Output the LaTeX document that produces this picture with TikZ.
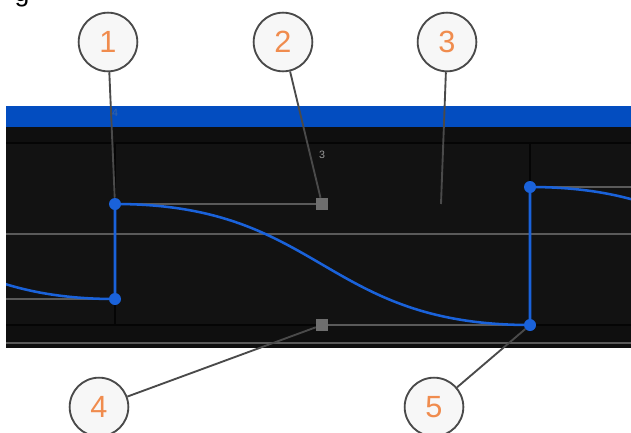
\documentclass[tikz,border=0pt]{standalone}
\usepackage{fontspec}
\setmainfont{Liberation Sans}
\usepackage{tikz}
\usetikzlibrary{backgrounds}
\definecolor{barblue}{HTML}{034DC0}
\definecolor{keyblue}{HTML}{1A62DA}
\definecolor{panel}{HTML}{121212}
\definecolor{strip}{HTML}{0F0F0F}
\definecolor{sep}{HTML}{050505}
\definecolor{gridgray}{HTML}{5A5A5A}
\definecolor{handlegray}{HTML}{6E6E6E}
\definecolor{leadgray}{HTML}{4A4A4A}
\definecolor{numorange}{HTML}{F08C4E}
\tikzstyle{key} = [circle, minimum width=9pt, fill=keyblue, inner sep=0pt]
\tikzstyle{handle} = [rectangle, minimum size=9pt, fill=handlegray, inner sep=0pt]
\tikzstyle{callout} = [circle, minimum width=44pt, inner sep=0pt, draw=leadgray, line width=1.4pt,
  fill=black!3, text=numorange, font=\fontsize{23}{23}\selectfont]
\tikzstyle{leader} = [draw=leadgray, line width=1.4pt]
\tikzstyle{grid} = [draw=gridgray, line width=1pt]
\tikzstyle{frame} = [font=\fontsize{8}{8}\selectfont, inner sep=0pt]

\begin{document}
\begin{tikzpicture}[x=0.75pt, y=-0.75pt]
        \useasboundingbox (0,0) rectangle (631,432);
        \node (cap) [anchor=base, inner sep=0pt] at (22,2) {\fontsize{20}{20}\selectfont g};
        % keyframes and tangent handles
        \node (k0) [key] at (115,299) {};
        \node (k1) [key] at (115,204) {};
        \node (k5) [key] at (530,325) {};
        \node (k6) [key] at (530,187) {};
        \node (h2) [handle] at (322,204) {};
        \node (h4) [handle] at (322,325) {};
        \coordinate (p3) at (441,204);
        \begin{scope}[on background layer]
        \fill[barblue] (6,106) rectangle (631,127);
        \fill[strip] (6,127) rectangle (631,348);
        \fill[panel] (6,143) rectangle (631,325);
        \draw[sep, line width=1pt] (6,143) -- (631,143);
        \draw[sep, line width=1pt] (6,325) -- (631,325);
        \draw[sep, line width=1.2pt] (115,143) -- (115,325);
        \draw[sep, line width=1.2pt] (530,143) -- (530,325);
        \draw[grid] (6,234) -- (631,234);
        \draw[grid] (6,343) -- (631,343);
        \draw[grid] (6,299) -- (k0);
        \draw[grid] (k1) -- (h2);
        \draw[grid] (h4) -- (k5);
        \draw[grid] (k6) -- (631,187);
        \begin{scope}
        \clip (6,106) rectangle (631,348);
        \draw[keyblue, line width=1.9pt] (-300,175) .. controls (-92,175) and (-92,299) .. (k0.center)
            -- (k1.center) .. controls (h2.center) and (h4.center) .. (k5.center)
            -- (k6.center) .. controls (737,187) and (737,308) .. (945,308);
        \end{scope}
        \end{scope}
        \node (f4) [frame, text=barblue!55!gray] at (115,113) {4};
        \node (f3) [frame, text=black!40] at (322,155) {3};
        % callouts
        \node (c1) [callout] at (108,42) {1};
        \node (c2) [callout] at (283,42) {2};
        \node (c3) [callout] at (447,42) {3};
        \node (c4) [callout] at (99,407) {4};
        \node (c5) [callout] at (434,407) {5};
        \draw[leader] (c1) -- (k1);
        \draw[leader] (c2) -- (h2);
        \draw[leader] (c3) -- (p3);
        \draw[leader] (c4) -- (h4);
        \draw[leader] (c5) -- (k5);
    \end{tikzpicture}
\end{document}
